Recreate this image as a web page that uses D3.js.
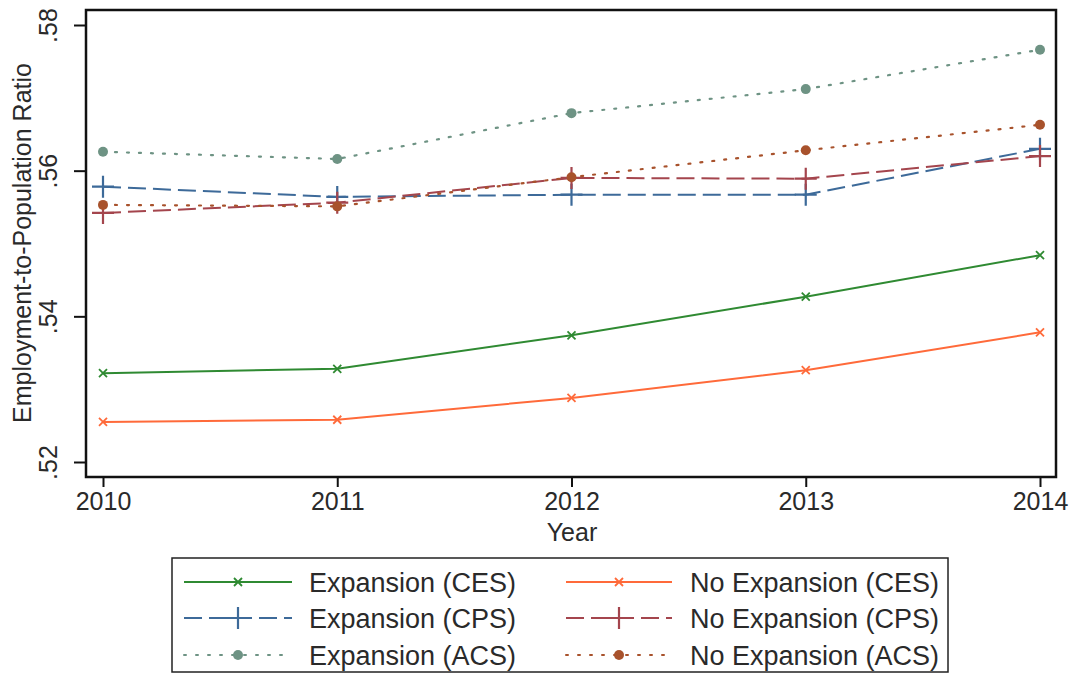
<!DOCTYPE html>
<html><head><meta charset="utf-8">
<script src="https://cdn.jsdelivr.net/npm/d3@7"></script>
<style>body{margin:0;background:#fff}svg{display:block}text{font-family:"Liberation Sans",Arial,sans-serif;fill:#2a2a2a}</style>
</head><body><svg id="c" width="1073" height="677"></svg>
<script>
const years = [2010, 2011, 2012, 2013, 2014];
const yTicks = [0.52, 0.54, 0.56, 0.58];
const yTickLabels = [".52", ".54", ".56", ".58"];
const expCES   = [0.5322, 0.5328, 0.5374, 0.5427, 0.5484];
const noExpCES = [0.5255, 0.5258, 0.5288, 0.5326, 0.5378];
const expCPS   = [0.5578, 0.5564, 0.5567, 0.5567, 0.5630];
const noExpCPS = [0.5542, 0.5556, 0.5590, 0.5589, 0.5620];
const expACS   = [0.5626, 0.5616, 0.5679, 0.5712, 0.5766];
const noExpACS = [0.5553, 0.5551, 0.5591, 0.5628, 0.5663];
const seriesNames = ["Expansion (CES)","No Expansion (CES)","Expansion (CPS)","No Expansion (CPS)","Expansion (ACS)","No Expansion (ACS)"];

const series = [
  {name:seriesNames[0], v:expCES, color:"#2f8a32", dash:null, marker:"x"},
  {name:seriesNames[1], v:noExpCES, color:"#ff6a3a", dash:null, marker:"x"},
  {name:seriesNames[2], v:expCPS, color:"#3d6a99", dash:"18,7", marker:"+"},
  {name:seriesNames[3], v:noExpCPS, color:"#a4454d", dash:"18,7", marker:"+"},
  {name:seriesNames[4], v:expACS, color:"#6e9384", dash:"2,10", marker:"o"},
  {name:seriesNames[5], v:noExpACS, color:"#a8522c", dash:"2,10", marker:"o"}
];

const svg = d3.select("#c");
const x = d3.scaleLinear().domain([2010,2014]).range([103,1040]);
const y = d3.scaleLinear().domain([0.52,0.58]).range([462,25]);
const frame = {l:86, r:1056, t:10, b:477};

svg.append("rect").attr("x",frame.l).attr("y",frame.t).attr("width",frame.r-frame.l).attr("height",frame.b-frame.t)
  .attr("fill","none").attr("stroke","#111").attr("stroke-width",2.5);

const ya = svg.append("g").attr("transform",`translate(${frame.l},0)`)
  .call(d3.axisLeft(y).tickValues(yTicks).tickFormat((d,i)=>yTickLabels[i]).tickSize(12).tickPadding(0));
ya.select(".domain").remove();
ya.selectAll(".tick line").attr("stroke","#111").attr("stroke-width",2);
ya.selectAll(".tick text").attr("font-size",25).attr("fill","#2a2a2a")
  .each(function(){
    d3.select(this).attr("x",0).attr("y",0).attr("dy",null).attr("text-anchor","middle")
      .attr("transform","translate(-29,0) rotate(-90)");
  });

const xa = svg.append("g").attr("transform",`translate(0,${frame.b})`)
  .call(d3.axisBottom(x).tickValues(years).tickFormat(d3.format("d")).tickSize(10).tickPadding(5));
xa.select(".domain").remove();
xa.selectAll(".tick line").attr("stroke","#111").attr("stroke-width",2);
xa.selectAll(".tick text").attr("font-size",25).attr("fill","#2a2a2a").attr("dy","0.71em");

svg.append("text").attr("x",572).attr("y",541).attr("text-anchor","middle").attr("font-size",25).text("Year");
svg.append("text").attr("transform","translate(31,243) rotate(-90)").attr("text-anchor","middle").attr("font-size",25).text("Employment-to-Population Ratio");

function drawMarker(g, type, cx, cy, color){
  if(type==="x"){
    const s = 4;
    g.append("path").attr("d",`M${cx-s},${cy-s}L${cx+s},${cy+s}M${cx-s},${cy+s}L${cx+s},${cy-s}`)
      .attr("stroke",color).attr("stroke-width",1.8).attr("fill","none");
  } else if(type==="+"){
    const s = 11;
    g.append("path").attr("d",`M${cx-s},${cy}L${cx+s},${cy}M${cx},${cy-s}L${cx},${cy+s}`)
      .attr("stroke",color).attr("stroke-width",2.2).attr("fill","none");
  } else {
    g.append("circle").attr("cx",cx).attr("cy",cy).attr("r",5).attr("fill",color);
  }
}

const line = d3.line().x((d,i)=>x(years[i])).y(d=>y(d));
const plot = svg.append("g");
series.forEach(s=>{
  plot.append("path").datum(s.v).attr("d",line).attr("fill","none").attr("stroke",s.color)
    .attr("stroke-width",s.marker==="o"?2.2:2).attr("stroke-dasharray",s.dash).attr("stroke-linecap",s.marker==="o"?"round":"butt");
  s.v.forEach((v,i)=>drawMarker(plot,s.marker,x(years[i]),y(v),s.color));
});

const leg = svg.append("g");
leg.append("rect").attr("x",172).attr("y",558).attr("width",776).attr("height",114).attr("fill","none").attr("stroke","#222").attr("stroke-width",1.5);
const rowsY = [582, 618, 655];
const cols = [{x0:184,x1:292,tx:309},{x0:566,x1:672,tx:690}];
series.forEach((s,k)=>{
  const c = cols[k%2], ry = rowsY[Math.floor(k/2)];
  const g = leg.append("g");
  g.append("line").attr("x1",c.x0).attr("x2",c.x1).attr("y1",ry).attr("y2",ry).attr("stroke",s.color)
    .attr("stroke-width",2).attr("stroke-dasharray",s.dash).attr("stroke-linecap",s.marker==="o"?"round":"butt");
  drawMarker(g,s.marker,(c.x0+c.x1)/2,ry,s.color);
  g.append("text").attr("x",c.tx).attr("y",ry).attr("dy","0.36em").attr("font-size",27).text(s.name);
});
</script></body></html>
